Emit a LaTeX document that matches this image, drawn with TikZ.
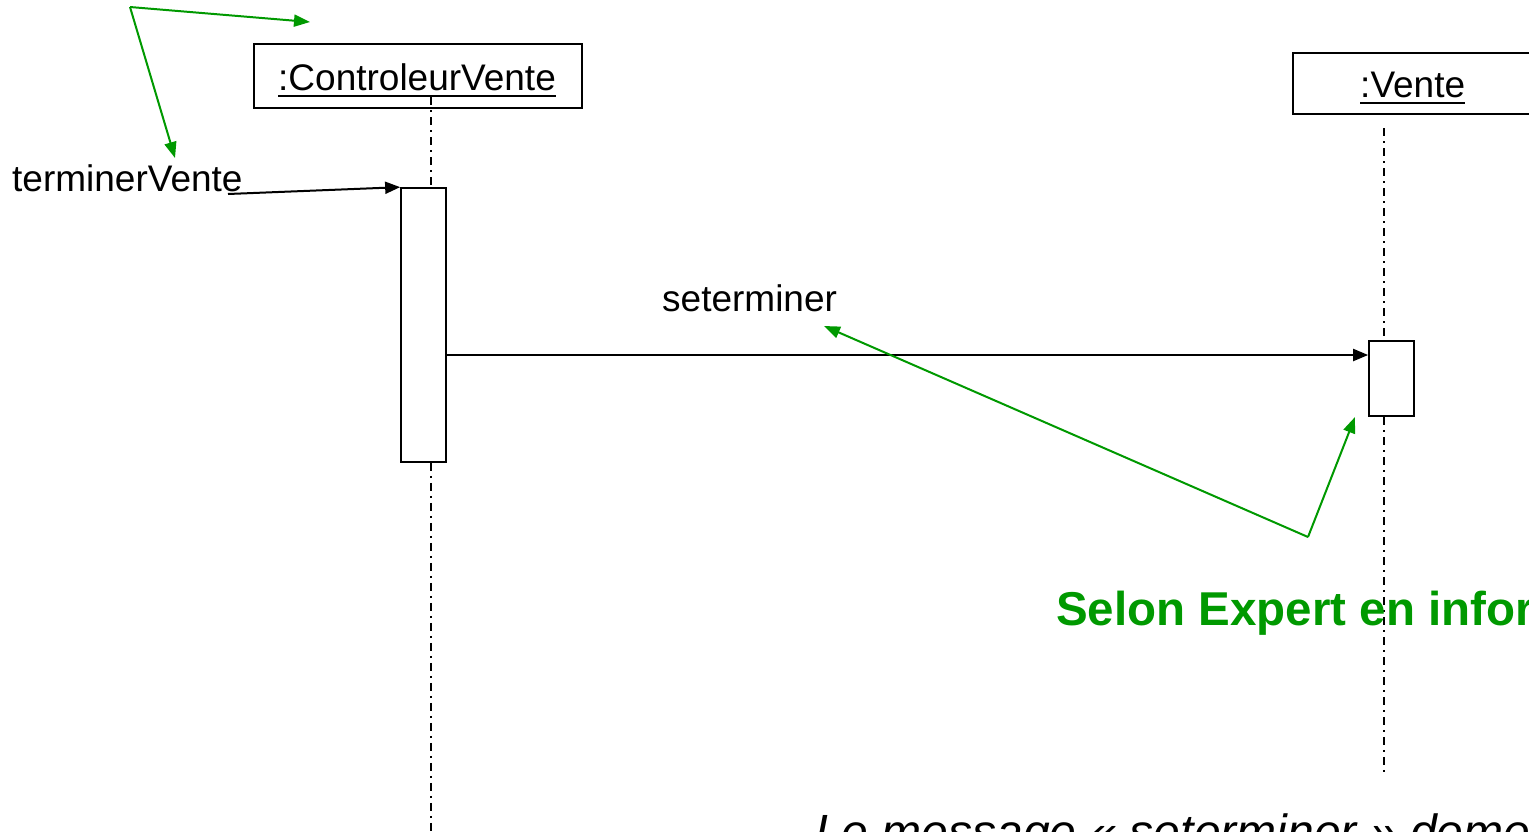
\documentclass[tikz,border=0pt]{standalone}
\usepackage{fontspec}
\setmainfont{Liberation Sans}
\usetikzlibrary{arrows.meta,calc}
\definecolor{grn}{RGB}{0,153,0}
\begin{document}
\begin{tikzpicture}[x=1pt,y=-1pt,
  lbl/.style={inner sep=0pt, anchor=base west, font=\fontsize{37}{44}\selectfont},
  objbox/.style={draw, line width=1.7pt, inner sep=0pt},
  actbox/.style={draw, fill=white, line width=1.7pt, inner sep=0pt, minimum width=45pt},
  lifeline/.style={line width=1.5pt, dash pattern=on 8pt off 5pt on 2pt off 5pt},
  msg/.style={line width=2pt, -{Triangle[length=15pt,width=12pt]}},
  garrow/.style={draw=grn, line width=2pt, -{Triangle[length=16pt,width=12pt]}, fill=grn},
  uline/.style={line width=2.4pt}]
\useasboundingbox (0,0) rectangle (1529,831);
\clip (0,0) rectangle (1529,831);
\fill[white] (0,0) rectangle (1529,831);

% object boxes
\node[objbox, minimum width=328pt, minimum height=64pt] (cvbox) at (418,76) {};
\node[objbox, minimum width=241pt, minimum height=61pt] (vbox) at (1413.5,83.5) {};
\node[lbl] (cvname) at (278,90) {:ControleurVente};
\node[lbl] (vname) at (1360,97) {:Vente};
\draw[uline] ($(cvname.base west)+(0,6)$) -- ($(cvname.base east)+(0,6)$);
\draw[uline] ($(vname.base west)+(0,6)$) -- ($(vname.base east)+(0,6)$);

% activations
\node[actbox, minimum height=274pt] (act1) at (423.5,325) {};
\node[actbox, minimum height=75pt] (act2) at (1391.5,378.5) {};

% lifelines
\coordinate (cvl0) at (431,97);
\coordinate (cvl1) at (431,831);
\coordinate (vl0) at (1384,128);
\coordinate (vl1) at (1384,775);
\draw[lifeline] (cvl0) -- (cvl0 |- act1.north);
\draw[lifeline] (cvl1 |- act1.south) -- (cvl1);
\draw[lifeline] (vl0) -- (vl0 |- act2.north);
\draw[lifeline] (vl1 |- act2.south) -- (vl1);

% messages
\node[lbl] (tvlbl) at (12,191) {terminerVente};
\coordinate (tvstart) at (228,194);
\draw[msg] (tvstart) -- (act1.north west);
\node[lbl] (stlbl) at (662,311) {seterminer};
\coordinate (m2) at (446,355);
\draw[msg] (m2) -- (m2 -| act2.west);

% green annotations
\coordinate (g1) at (130,7);
\coordinate (g1a) at (310,22);
\coordinate (g1b) at (175,158);
\draw[garrow] (g1) -- (g1a);
\draw[garrow] (g1) -- (g1b);
\coordinate (g2) at (1308,537);
\coordinate (g2a) at (824,326);
\coordinate (g2b) at (1355,417);
\draw[garrow] (g2) -- (g2a);
\draw[garrow] (g2) -- (g2b);

\node[inner sep=0pt, anchor=base west, text=grn, font=\fontsize{47.5}{56}\selectfont\bfseries] (expert) at (1056,625) {Selon Expert en infor};
\node[inner sep=0pt, anchor=base west, font=\fontsize{48}{56}\selectfont\itshape] (note) at (815,848) {Le message « seterminer » deme};
\end{tikzpicture}
\end{document}
